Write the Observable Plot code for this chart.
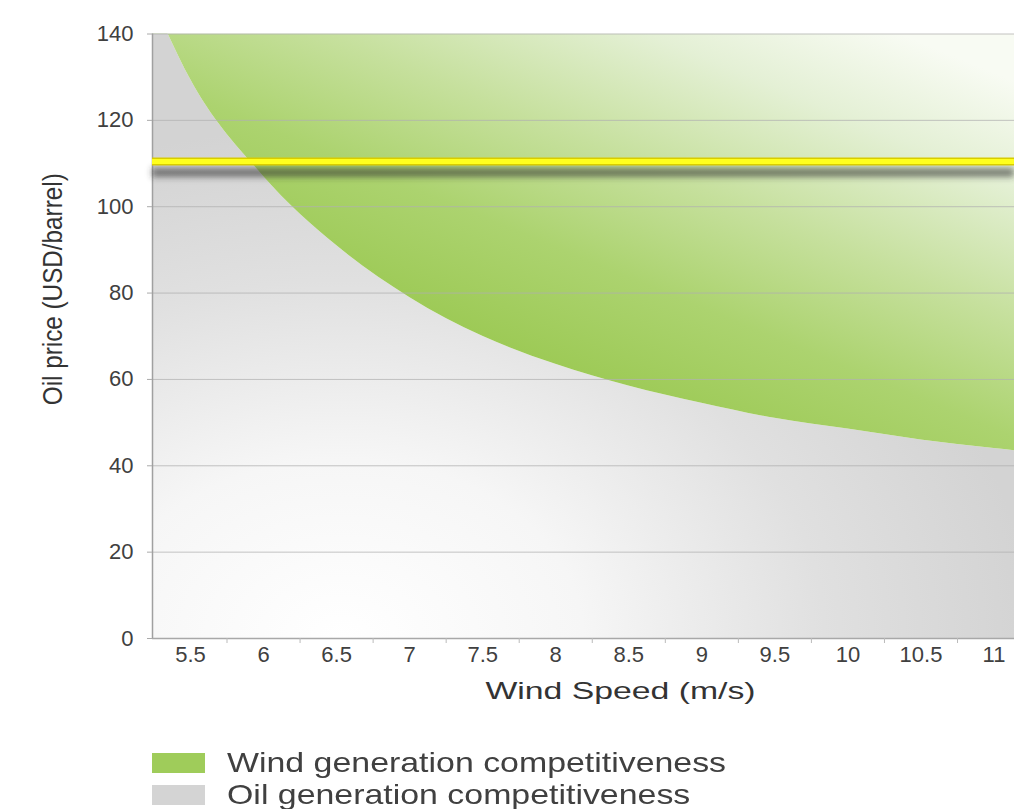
<!DOCTYPE html>
<html>
<head>
<meta charset="utf-8">
<script src="https://cdn.jsdelivr.net/npm/d3@7"></script>
<script src="https://cdn.jsdelivr.net/npm/@observablehq/plot@0.6"></script>
<style>
  html, body { margin: 0; padding: 0; background: #ffffff; }
  #chart { width: 1014px; }
  #legend { margin-top: 17px; font-family: "Liberation Sans", Arial, sans-serif; font-size: 28px; color: #404040; }
  #legend .row { height: 32px; line-height: 32px; display: flex; align-items: center; padding-left: 152px; }
  #legend .sw { width: 53px; height: 20px; margin-right: 22px; flex: none; }
  #legend .lab { display: inline-block; transform: scaleX(1.21); transform-origin: left center; white-space: nowrap; }
</style>
</head>
<body>
<div id="chart"></div>
<div id="legend"></div>
<script>
// ---- data ----
const windSpeed = [5.24, 5.5, 6, 6.5, 7, 7.5, 8, 8.5, 9, 9.5, 10, 10.5, 11, 11.14];
const breakEvenOilPrice = [148, 129.5, 107, 91, 79, 70, 63.5, 58.5, 54.5, 51, 48.5, 46, 44, 43.5];
const xTickLabels = [5.5, 6, 6.5, 7, 7.5, 8, 8.5, 9, 9.5, 10, 10.5, 11];
const yTicks = [0, 20, 40, 60, 80, 100, 120, 140];
const currentOilPrice = [110.5];
const legendLabels = ["Wind generation competitiveness", "Oil generation competitiveness"];
const legendColors = ["#9fcc5a", "#d4d4d4"];
const xTitle = "Wind Speed (m/s)";
const yTitle = "Oil price (USD/barrel)";

const yMax = yTicks[yTicks.length - 1];
const xBoundaries = xTickLabels.slice(0, -1).map(v => v + 0.25);

const defs = () => {
  const d = d3.create("svg:defs");
  const g1 = d.append("radialGradient").attr("id", "grayGrad")
    .attr("cx", 0.22).attr("cy", 1).attr("r", 0.8);
  [[0, "#ffffff"], [0.35, "#f6f6f6"], [0.7, "#e0e0e0"], [1, "#d3d3d3"]]
    .forEach(([o, c]) => g1.append("stop").attr("offset", o).attr("stop-color", c));
  const g2 = d.append("linearGradient").attr("id", "greenGrad")
    .attr("x1", 0.4).attr("y1", 0.76).attr("x2", 0.912).attr("y2", 0.112);
  [[0, "#9dca56"], [0.25, "#acd36f"], [0.5, "#c6e09d"], [0.78, "#e4f0d5"], [1, "#f8fbf3"]]
    .forEach(([o, c]) => g2.append("stop").attr("offset", o).attr("stop-color", c));
  const f = d.append("filter").attr("id", "blur").attr("filterUnits", "userSpaceOnUse")
    .attr("x", 0).attr("y", 0).attr("width", 1014).attr("height", 730);
  f.append("feGaussianBlur").attr("stdDeviation", 3);
  return d.node();
};

const chart = Plot.plot({
  width: 1014,
  height: 730,
  marginLeft: 152,
  marginRight: 0,
  marginTop: 33.5,
  marginBottom: 92,
  style: { fontFamily: "'Liberation Sans', Arial, sans-serif", background: "transparent", overflow: "visible" },
  x: { domain: [5.24, 11.14], label: null },
  y: { domain: [0, yMax], label: null },
  marks: [
    defs,
    Plot.areaY(windSpeed, {
      x: windSpeed, y1: windSpeed.map(() => 0), y2: breakEvenOilPrice,
      curve: "monotone-x", fill: "url(#grayGrad)", clip: true
    }),
    Plot.areaY(windSpeed, {
      x: windSpeed, y1: breakEvenOilPrice, y2: windSpeed.map(() => yMax),
      curve: "monotone-x", fill: "url(#greenGrad)", clip: true
    }),
    Plot.ruleY(yTicks.filter(v => v > 0), { stroke: "#b0b0b0", strokeOpacity: 0.75, strokeWidth: 1 }),
    Plot.ruleY([0], { stroke: "#a8a8a8", strokeWidth: 1.5 }),
    Plot.ruleX([5.24], { stroke: "#a0a0a0", strokeWidth: 1.5 }),
    Plot.ruleY(currentOilPrice, { stroke: "#303030", strokeWidth: 9, strokeOpacity: 0.6, dy: 11 }),
    Plot.ruleY(currentOilPrice, { stroke: "#d8cc00", strokeWidth: 8 }),
    Plot.ruleY(currentOilPrice, { stroke: "#ffff1e", strokeWidth: 5 }),
    Plot.axisY({ ticks: yTicks, tickSize: 5, tickPadding: 14, fontSize: 22, stroke: "#aaaaaa", fill: "#404040", label: null }),
    Plot.axisX({ ticks: xBoundaries, tickSize: 5, tickFormat: () => "", stroke: "#bbbbbb", label: null }),
    Plot.axisX({ ticks: xTickLabels, tickSize: 0, tickPadding: 8, fontSize: 22, fill: "#404040", tickFormat: d => String(d), label: null }),
    Plot.text([xTitle], { frameAnchor: "bottom-left", textAnchor: "start", lineAnchor: "middle", dx: 333, dy: 53, fontSize: 24, fill: "#333333", text: d => d }),
    Plot.text([yTitle], { frameAnchor: "left", textAnchor: "middle", lineAnchor: "middle", rotate: -90, dx: -99, dy: -47, fontSize: 27, fill: "#333333", text: d => d })
  ]
});

const rules = chart.querySelectorAll('g[aria-label="rule"]');
if (rules[3]) rules[3].setAttribute("filter", "url(#blur)");
const texts = chart.querySelectorAll('g[aria-label="text"] text');
if (texts[0]) { texts[0].setAttribute("textLength", 270); texts[0].setAttribute("lengthAdjust", "spacingAndGlyphs"); }
if (texts[1]) { texts[1].setAttribute("textLength", 232); texts[1].setAttribute("lengthAdjust", "spacingAndGlyphs"); }

document.getElementById("chart").appendChild(chart);

const legend = d3.select("#legend");
legendLabels.forEach((lab, i) => {
  const row = legend.append("div").attr("class", "row");
  row.append("span").attr("class", "sw").style("background", legendColors[i]);
  row.append("span").attr("class", "lab").text(lab);
});
</script>
</body>
</html>
